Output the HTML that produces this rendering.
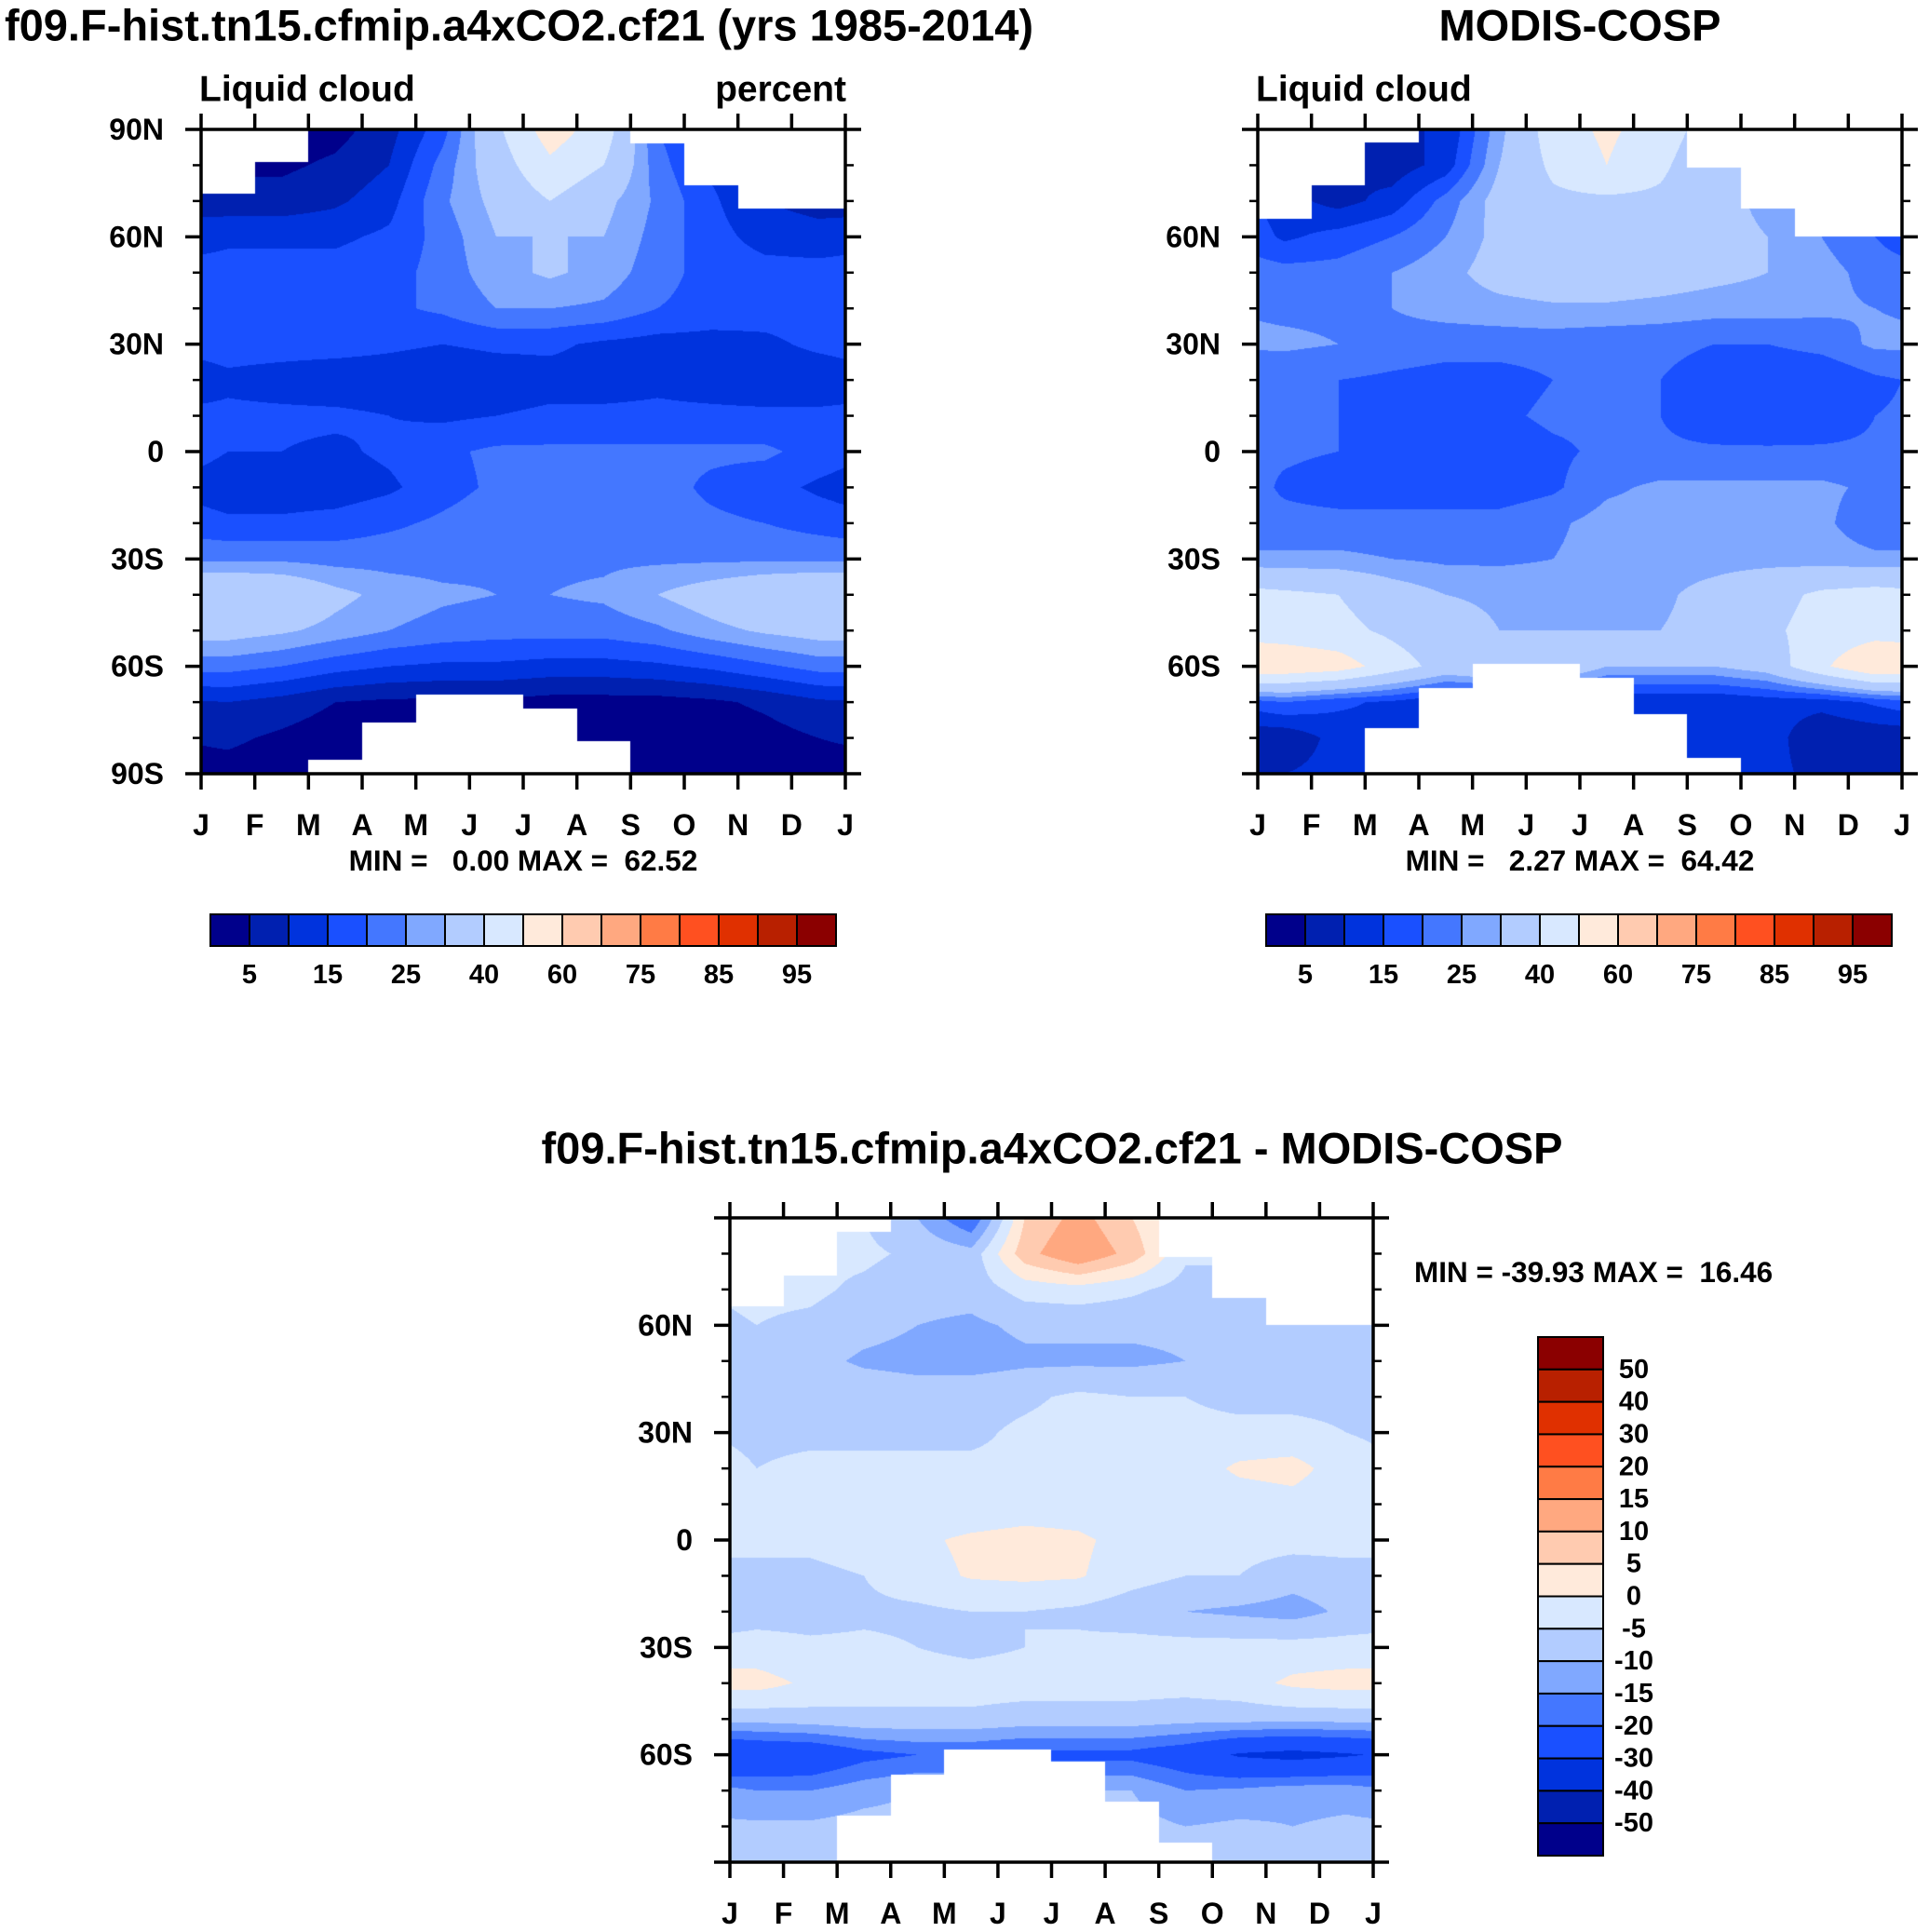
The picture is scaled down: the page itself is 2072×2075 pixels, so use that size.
<!DOCTYPE html>
<html><head><meta charset="utf-8">
<style>
body{margin:0;background:#fff;}
#wrap{position:relative;width:2072px;height:2075px;overflow:hidden;background:#fff;}
canvas{position:absolute;}
svg{position:absolute;left:0;top:0;}
text{font-family:"Liberation Sans",Arial,sans-serif;font-weight:bold;fill:#000;}
</style></head>
<body>
<div id="wrap">
<canvas id="c1" width="692" height="692" style="left:216px;top:139px"></canvas>
<canvas id="c2" width="692" height="692" style="left:1351px;top:139px"></canvas>
<canvas id="c3" width="691" height="692" style="left:784px;top:1308px"></canvas>
<svg id="svg" width="2072" height="2075"></svg>
</div>
<script>
// ---------- data ----------
const months = ["J","F","M","A","M","J","J","A","S","O","N","D","J"];
const lats = [90,80,70,60,50,40,30,20,10,0,-10,-20,-30,-40,-50,-60,-70,-80,-90];
const absLevels = [5,10,15,20,25,30,40,50,60,70,75,80,85,90,95];
const absLabels = ["5","15","25","40","60","75","85","95"];
const diffLevels = [-50,-40,-30,-20,-15,-10,-5,0,5,10,15,20,30,40,50];
const diffLabels = ["-50","-40","-30","-20","-15","-10","-5","0","5","10","15","20","30","40","50"];
const palette = ["#00008b","#0020b0","#0033dd","#1a50ff","#4477ff","#80a8ff","#b2ccff","#d8e8ff","#ffeadb","#ffcbb0","#ffa880","#ff7b45","#ff5020","#e03000","#b82000","#8b0000"];

const modelValues = [
 [2,2,3,8,18,38,55,45,20,14,10,8],
 [4,4,6,10,22,35,48,40,22,14,10,6],
 [7,7,9,13,24,32,40,32,24,16,10,8],
 [14,14,14,16,22,30,30,30,23,17,13,12],
 [17,17,17,18,22,28,31,28,22,18,17,17],
 [17,18,18,19,21,25,25,24,20,18,17,17],
 [17,17,17,16,15,16,16,14,13,13,14,16],
 [14,13,12,12,11,12,13,13,14,13,12,12],
 [16,16,16,15,14,15,16,16,16,16,16,16],
 [15,15,14,16,19,21,21,21,21,21,21,18],
 [12,12,12,14,18,21,22,22,22,19,17,14],
 [16,16,17,19,21,23,23,23,22,21,20,18],
 [24,24,23,23,23,24,24,24,24,24,24,24],
 [40,38,32,28,26,25,25,26,30,34,38,40],
 [33,31,28,25,23,22,22,22,24,28,31,33],
 [22,20,17,15,14,14,13,13,14,16,19,22],
 [10,8,5,4,4,4,3,3,3,4,6,9],
 [6,4,2,2,2,2,2,2,2,2,3,5],
 [3,2,2,2,2,2,2,2,2,2,2,3]
];
const modelNorth = [72,81,null,null,null,null,null,null,86,74.5,68,68];
const modelSouth = [null,null,-86,-75.6,-68,-68,-71.8,-81,null,null,null,null];

const modisValues = [
 [10,10,10,10,28,45,52,45,35,30,30,10],
 [10,10,7,12,30,42,50,42,32,30,25,10],
 [12,8,12,22,33,38,38,38,33,28,24,18],
 [14,17,20,25,32,35,35,35,33,30,25,20],
 [22,22,25,28,33,35,35,34,32,30,27,23],
 [24,24,25,27,28,29,29,28,27,27,26,25],
 [26,25,23,22,22,22,21,21,20,20,22,26],
 [21,20,19,18,18,20,21,20,18,15,15,19],
 [21,20,19,18,19,21,21,20,16,15,16,20],
 [21,20,18,17,17,19,21,21,21,21,21,21],
 [19,17,17,17,17,19,24,26,26,26,26,24],
 [22,22,22,22,22,24,27,27,27,27,26,22],
 [26,26,25,24,24,25,27,28,28,28,27,26],
 [42,40,34,30,29,28,28,29,32,36,42,44],
 [45,43,38,33,30,30,30,30,32,38,44,46],
 [58,55,45,36,40,40,30,30,30,34,48,60],
 [20,16,14,10,10,10,10,10,10,12,12,16],
 [6,12,14,12,12,12,12,12,12,13,5,6],
 [10,12,12,12,12,12,12,12,12,12,8,10]
];
const modisNorth = [65,74.3,86.3,null,null,null,null,null,79.3,67.9,60,60];
const modisSouth = [null,null,-77.2,-66,-59.3,-59.3,-63.2,-73.3,-85.5,null,null,null];

const diffValues = [
 [-4,-4,-5,-10,-20,5,12,5,-3,-3,-4,-4],
 [-4,-4,-4,-6,-8,8,15,8,-4,-3,-4,-4],
 [-4,-4,-6,-8,-8,-3,-2,-4,-7,-9,-7,-5],
 [-5,-6,-8,-10,-11,-9,-9,-9,-9,-8,-7,-6],
 [-7,-8,-11,-12,-12,-11,-11,-11,-10,-8,-7,-7],
 [-5,-6,-6,-7,-7,-6,-4,-5,-5,-6,-6,-6],
 [-6,-6,-6,-6,-6,-4,-3,-4,-4,-4,-4,-5],
 [-5,-4,-4,-4,-4,-4,-3,-4,-3,1,2,-3],
 [-4,-4,-3,-4,-4,-3,-3,-4,-4,-3,-2,-4],
 [-4,-4,-3,-1,1,2,1,-2,-3,-3,-3,-3],
 [-6,-6,-5,-2,0.5,1,0.5,-3,-5,-5,-8,-7],
 [-7,-7,-6,-6,-5,-5,-6,-8,-10,-11,-12,-9],
 [-3,-4,-4,-5,-6,-5,-4,-3,-3,-3,-3,-3],
 [2,-1,-3,-3,-3,-3,-3,-3,-3,-2,1,2],
 [-8,-7,-6,-6,-6,-7,-7,-7,-8,-8,-8,-8],
 [-28,-27,-22,-20,-20,-22,-22,-22,-25,-31,-33,-31],
 [-15,-15,-12,-10,-10,-10,-10,-10,-15,-14,-12,-12],
 [-9,-9,-8,-8,-8,-8,-8,-8,-10,-9,-10,-9],
 [-7,-7,-6,-6,-6,-6,-6,-6,-6,-6,-7,-7]
];
const diffNorth = [65.3,74,86,null,null,null,null,null,79,67.7,60,60];
const diffSouth = [null,null,-77,-65.6,-58.4,-58.4,-62,-73,-84.5,null,null,null];

// ---------- rendering ----------
function levelIndex(v, levels){let i=0;while(i<levels.length&&v>=levels[i])i++;return i;}
function hex(c){return [parseInt(c.slice(1,3),16),parseInt(c.slice(3,5),16),parseInt(c.slice(5,7),16)];}
const rgb = palette.map(hex);
function sample(vals, fx, lat){
  let cx = fx-0.5; if(cx<0) cx+=12;
  const i0=Math.floor(cx)%12, i1=(i0+1)%12, tx=cx-Math.floor(cx);
  let ry=(90-lat)/10; if(ry>18) ry=18;
  const j0=Math.min(17,Math.floor(ry)), ty=ry-j0, j1=j0+1;
  const a=vals[j0][i0]*(1-tx)+vals[j0][i1]*tx;
  const b=vals[j1][i0]*(1-tx)+vals[j1][i1]*tx;
  return a*(1-ty)+b*ty;
}
function drawHeat(id, vals, levels, north, south){
  const cv=document.getElementById(id), ctx=cv.getContext('2d');
  const W=cv.width,H=cv.height, img=ctx.createImageData(W,H);
  for(let y=0;y<H;y++){
    const lat=90-180*(y+0.5)/H;
    for(let x=0;x<W;x++){
      const fx=12*(x+0.5)/W;
      const m=Math.min(11,Math.floor(fx));
      let c=[255,255,255];
      const masked=(north[m]!==null&&lat>north[m])||(south[m]!==null&&lat<south[m]);
      if(!masked){c=rgb[levelIndex(sample(vals,fx,lat),levels)];}
      const k=(y*W+x)*4; img.data[k]=c[0];img.data[k+1]=c[1];img.data[k+2]=c[2];img.data[k+3]=255;
    }
  }
  ctx.putImageData(img,0,0);
}
drawHeat('c1',modelValues,absLevels,modelNorth,modelSouth);
drawHeat('c2',modisValues,absLevels,modisNorth,modisSouth);
drawHeat('c3',diffValues,diffLevels,diffNorth,diffSouth);

const svg=document.getElementById('svg');
const NS="http://www.w3.org/2000/svg";
function el(tag,attrs,parent){const e=document.createElementNS(NS,tag);for(const k in attrs)e.setAttribute(k,attrs[k]);(parent||svg).appendChild(e);return e;}
function txt(s,x,y,size,anchor,name){const t=el('text',{x:x,y:y,'font-size':size,'text-anchor':anchor||'start','dominant-baseline':'central'});t.textContent=s;


t.style.whiteSpace='pre';
return t;}

function axes(x0,y0,x1,y1,showPoles,prefix){
  const g=el('g',{});
  
  
  el('rect',{x:x0,y:y0,width:x1-x0,height:y1-y0,fill:'none',stroke:'#000','stroke-width':3.5},g);
  const xs=v=>x0+(x1-x0)*v/12, ys=lat=>y0+(y1-y0)*(90-lat)/180;
  for(let m=0;m<=12;m++){
    const x=xs(m);
    el('line',{x1:x,x2:x,y1:y0,y2:y0-17,stroke:'#000','stroke-width':3.5},g);
    el('line',{x1:x,x2:x,y1:y1,y2:y1+17,stroke:'#000','stroke-width':3.5},g);
    txt(months[m],x,y1+55,32,'middle',prefix+'-x-tick-label');
  }
  for(let lat=-90;lat<=90;lat+=10){
    const y=ys(lat), major=lat%30===0, L=major?17:9;
    el('line',{x1:x0,x2:x0-L,y1:y,y2:y,stroke:'#000','stroke-width':major?3.5:2.5},g);
    el('line',{x1:x1,x2:x1+L,y1:y,y2:y,stroke:'#000','stroke-width':major?3.5:2.5},g);
    if(major&&(showPoles||Math.abs(lat)<90)){
      const lab=lat===0?'0':(Math.abs(lat)+(lat>0?'N':'S'));
      txt(lab,x0-40,y,32,'end',prefix+'-y-tick-label');
    }
  }
}
function hbar(x0,x1,y0,y1,labels,prefix){
  const n=palette.length,w=(x1-x0)/n;
  for(let i=0;i<n;i++){
    const r=el('rect',{x:x0+i*w,y:y0,width:w,height:y1-y0,fill:palette[i],stroke:'#000','stroke-width':2});
    
    
  }
  labels.forEach((s,k)=>{txt(s,x0+w*(1+2*k),y1+31,29,'middle',prefix+'-colorbar-label');});
}
function vbar(x0,x1,y0,y1,labels){
  const n=palette.length,h=(y1-y0)/n;
  for(let i=0;i<n;i++){
    const r=el('rect',{x:x0,y:y0+i*h,width:x1-x0,height:h,fill:palette[n-1-i],stroke:'#000','stroke-width':2});
    
    
  }
  const L=labels.length;
  for(let k=0;k<L;k++){txt(labels[L-1-k],1755,y0+h*(k+1),29,'middle','diff-colorbar-label');}
}

// panel 1
txt("f09.F-hist.tn15.cfmip.a4xCO2.cf21 (yrs 1985-2014)",5,27,47,'start','main-title');
txt("Liquid cloud",214,96,39,'start','panel1-subtitle');
txt("percent",909,96,39,'end','units-label');
axes(216,139,908,831,true,'panel1');
txt("MIN =   0.00 MAX =  62.52",562,924,31.5,'middle','panel1-min-max');
hbar(226,898,982,1016,absLabels,'panel1');

// panel 2
txt("MODIS-COSP",1697,27,47,'middle','panel2-title');
txt("Liquid cloud",1349,96,39,'start','panel2-subtitle');
axes(1351,139,2043,831,false,'panel2');
txt("MIN =   2.27 MAX =  64.42",1697,924,31.5,'middle','panel2-min-max');
hbar(1360,2032,982,1016,absLabels,'panel2');

// panel 3
txt("f09.F-hist.tn15.cfmip.a4xCO2.cf21 - MODIS-COSP",1130,1233,47,'middle','diff-title');
axes(784,1308,1475,2000,false,'panel3');
txt("MIN = -39.93 MAX =  16.46",1519,1366,31.5,'start','panel3-min-max');
vbar(1652,1722,1436,1993,diffLabels);
</script>
</body></html>
